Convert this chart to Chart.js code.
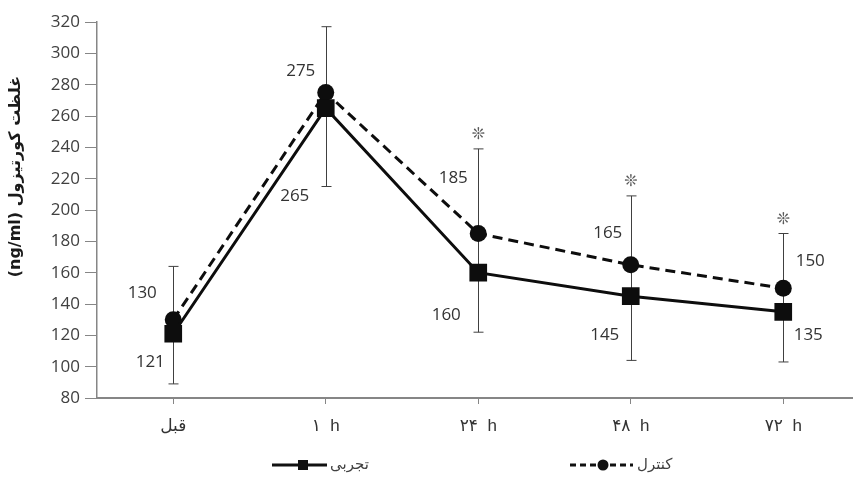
<!DOCTYPE html>
<html>
<head>
<meta charset="utf-8">
<script src="https://cdn.jsdelivr.net/npm/chart.js@4"></script>
<style>
  html, body { margin: 0; padding: 0; overflow: hidden; background: #fff; }
  #wrap { width: 872px; height: 478px; }
  canvas { display: block; }
</style>
</head>
<body>
<div id="wrap"><canvas id="cortisolChart" width="872" height="478"></canvas></div>
<script>
const categories = ["قبل", "۱  h", "۲۴  h", "۴۸  h", "۷۲  h"];
const experimentalValues = [121, 265, 160, 145, 135];
const controlValues = [130, 275, 185, 165, 150];
const errorTop = [164, 317, 239, 209, 185];
const errorBottom = [89, 215, 122, 104, 103];
const significant = [false, false, true, true, true];
const yMin = 80;
const yMax = 320;
const yStep = 20;

// label offsets from each point (px)
const expLabelOffsets = [[-23, 28], [-31, 88], [-32, 42], [-26, 39], [25, 23]];
const ctrlLabelOffsets = [[-31, -27], [-25, -21], [-25, -55], [-23, -32], [27, -27]];

const numFont = '17px "Open Sans", "DejaVu Sans", sans-serif';

const annotate = {
  id: "annotate",
  beforeDatasetsDraw(chart) {
    const ctx = chart.ctx;
    const x = chart.scales.x;
    const y = chart.scales.y;
    ctx.save();
    ctx.strokeStyle = "#404040";
    ctx.lineWidth = 1;
    errorTop.forEach((top, i) => {
      const px = Math.round(x.getPixelForValue(i)) + 0.5;
      const y1 = y.getPixelForValue(top);
      const y2 = y.getPixelForValue(errorBottom[i]);
      ctx.beginPath();
      ctx.moveTo(px, y1);
      ctx.lineTo(px, y2);
      ctx.moveTo(px - 5, y1);
      ctx.lineTo(px + 5, y1);
      ctx.moveTo(px - 5, y2);
      ctx.lineTo(px + 5, y2);
      ctx.stroke();
    });
    ctx.restore();
  },
  afterDatasetsDraw(chart) {
    const ctx = chart.ctx;
    const x = chart.scales.x;
    const y = chart.scales.y;
    ctx.save();
    ctx.font = numFont;
    ctx.fillStyle = "#333";
    ctx.textAlign = "center";
    ctx.textBaseline = "middle";
    experimentalValues.forEach((v, i) => {
      const o = expLabelOffsets[i];
      ctx.fillText(String(v), x.getPixelForValue(i) + o[0], y.getPixelForValue(v) + o[1]);
    });
    controlValues.forEach((v, i) => {
      const o = ctrlLabelOffsets[i];
      ctx.fillText(String(v), x.getPixelForValue(i) + o[0], y.getPixelForValue(v) + o[1]);
    });
    // significance marks
    ctx.font = '16px "DejaVu Sans", sans-serif';
    ctx.fillStyle = "#5a5a5a";
    significant.forEach((s, i) => {
      if (!s) return;
      ctx.fillText("❊", x.getPixelForValue(i), y.getPixelForValue(errorTop[i]) - 14);
    });
    ctx.restore();
  },
  afterDraw(chart) {
    const ctx = chart.ctx;
    const ly = 465;
    ctx.save();
    ctx.strokeStyle = "#111";
    ctx.fillStyle = "#111";
    ctx.lineWidth = 3;
    // experimental
    ctx.beginPath();
    ctx.moveTo(272, ly);
    ctx.lineTo(327, ly);
    ctx.stroke();
    ctx.fillRect(298, ly - 5, 10, 10);
    // control
    ctx.setLineDash([6, 4]);
    ctx.beginPath();
    ctx.moveTo(570, ly);
    ctx.lineTo(633, ly);
    ctx.stroke();
    ctx.setLineDash([]);
    ctx.beginPath();
    ctx.arc(603, ly, 5.5, 0, Math.PI * 2);
    ctx.fill();
    ctx.font = '15px "Liberation Sans", "DejaVu Sans", sans-serif';
    ctx.fillStyle = "#404040";
    ctx.textAlign = "left";
    ctx.textBaseline = "middle";
    ctx.fillText(chart.data.datasets[0].label, 330, ly);
    ctx.fillText(chart.data.datasets[1].label, 637, ly);
    ctx.restore();
  }
};

const ctx = document.getElementById("cortisolChart");
new Chart(ctx, {
  type: "line",
  data: {
    labels: categories,
    datasets: [
      {
        label: "تجربی",
        data: experimentalValues,
        borderColor: "#0d0d0d",
        backgroundColor: "#0d0d0d",
        borderWidth: 3,
        pointStyle: "rect",
        pointRadius: 12.5,
        pointBorderWidth: 0,
        tension: 0,
        fill: false,
      },
      {
        label: "کنترل",
        data: controlValues,
        borderColor: "#0d0d0d",
        backgroundColor: "#0d0d0d",
        borderWidth: 3,
        borderDash: [10, 6],
        pointStyle: "circle",
        pointRadius: 8.5,
        pointBorderWidth: 0,
        tension: 0,
        fill: false,
      },
    ],
  },
  options: {
    responsive: false,
    animation: false,
    devicePixelRatio: 1,
    layout: { padding: { top: 22, right: 0, bottom: 0, left: 0 } },
    plugins: {
      legend: { display: false },
      tooltip: { enabled: false },
    },
    scales: {
      x: {
        offset: true,
        grid: { drawOnChartArea: false, tickLength: 6, color: "#868686" },
        border: { color: "#868686", width: 2 },
        ticks: {
          color: "#333",
          font: { family: '"Liberation Sans", "DejaVu Sans", sans-serif', size: 17 },
          padding: 12,
          maxRotation: 0,
          autoSkip: false,
        },
        afterFit: (scale) => {
          scale.height = 80;
        },
      },
      y: {
        min: yMin,
        max: yMax,
        ticks: {
          stepSize: yStep,
          color: "#404040",
          font: { family: '"Open Sans", "DejaVu Sans", sans-serif', size: 17 },
          padding: 5,
        },
        grid: { drawOnChartArea: false, tickLength: 12, color: "#868686" },
        border: { color: "#868686", width: 1.5 },
        title: {
          display: true,
          text: "\u00A0".repeat(12) + "(ng/ml) غلظت کورتیزول",
          color: "#1a1a1a",
          font: { family: '"DejaVu Sans", sans-serif', size: 16, weight: "bold" },
          padding: { top: 6, bottom: 0 },
        },
        afterFit: (scale) => {
          scale.width = 97;
        },
      },
    },
  },
  plugins: [annotate],
});
</script>
</body>
</html>
